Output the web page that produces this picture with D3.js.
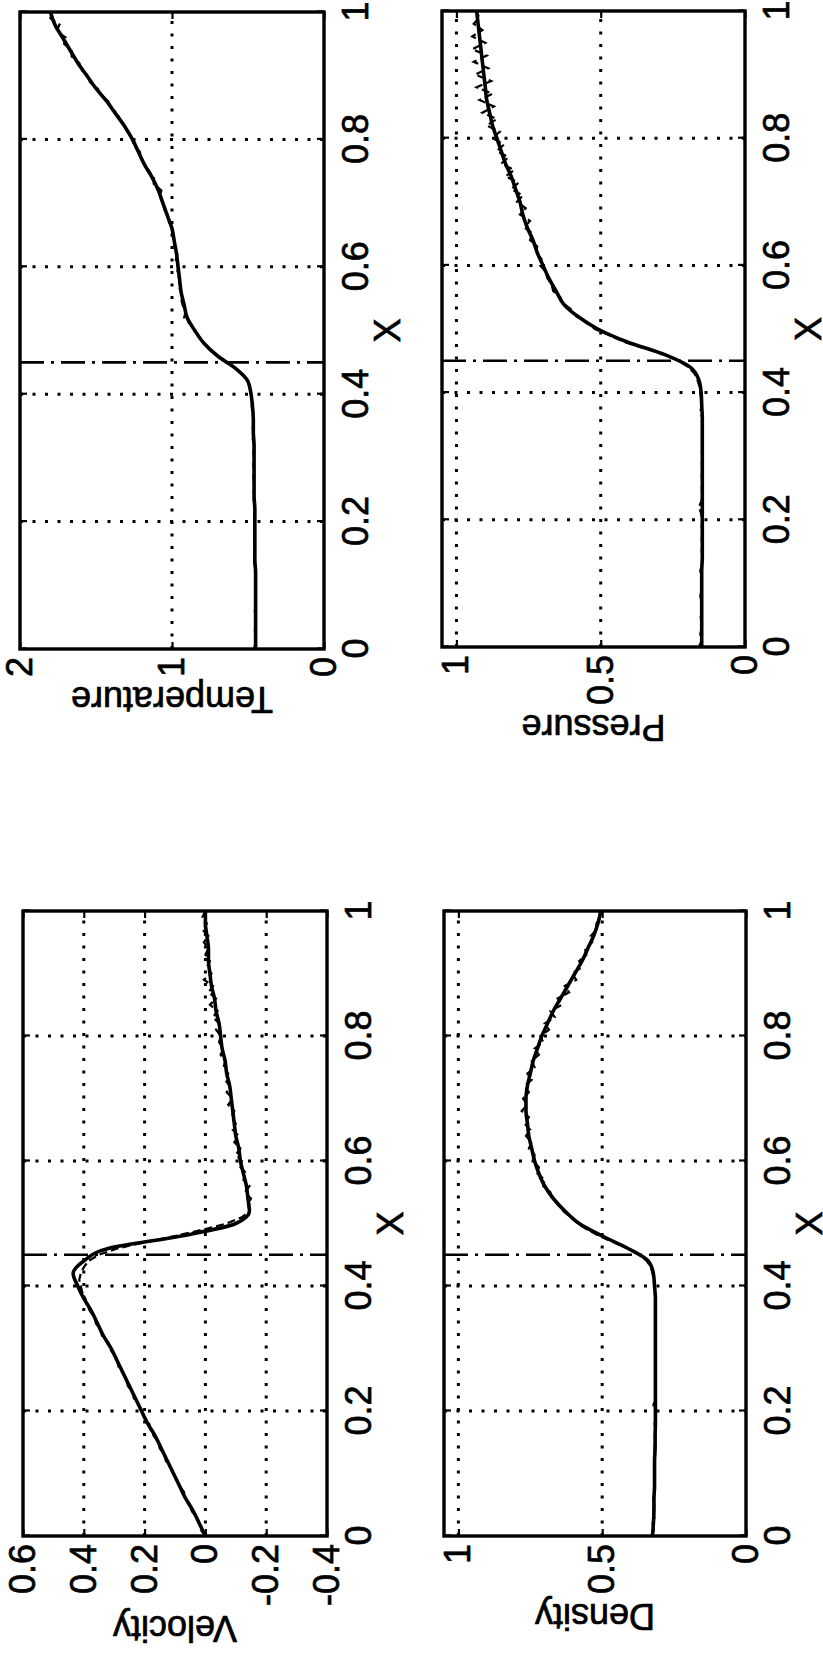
<!DOCTYPE html>
<html><head><meta charset="utf-8">
<script src="https://cdn.jsdelivr.net/npm/d3@7"></script>
<style>
body{margin:0;background:#fff}
svg{display:block;background:#fff}
text{font-family:"Liberation Sans",Arial,Helvetica,sans-serif;fill:#000;stroke:#000;stroke-width:0.7px}
</style>
</head><body>
<svg id="c" width="823" height="1655"></svg>
<script>
// ---------- DATA ----------
const xCoarse = [0,0.02,0.04,0.06,0.08,0.10,0.12,0.14,0.16,0.18,0.20,0.22,0.24,0.26,0.28,0.30,0.32,0.34,0.36,0.38,0.40,0.42,0.44,0.46,0.48,0.50,0.52,0.54,0.56,0.58,0.60,0.62,0.64,0.66,0.68,0.70,0.72,0.74,0.76,0.78,0.80,0.82,0.84,0.86,0.88,0.90,0.92,0.94,0.96,0.98,1.00];
const xFine = [0,0.01,0.02,0.03,0.04,0.05,0.06,0.07,0.08,0.09,0.10,0.11,0.12,0.13,0.14,0.15,0.16,0.17,0.18,0.19,0.20,0.21,0.22,0.23,0.24,0.25,0.26,0.27,0.28,0.29,0.30,0.31,0.32,0.33,0.34,0.35,0.36,0.37,0.38,0.39,0.40,0.41,0.42,0.43,0.44,0.45,0.46,0.47,0.48,0.49,0.50,0.51,0.52,0.53,0.54,0.55,0.56,0.57,0.58,0.59,0.60,0.61,0.62,0.63,0.64,0.65,0.66,0.67,0.68,0.69,0.70,0.71,0.72,0.73,0.74,0.75,0.76,0.77,0.78,0.79,0.80,0.81,0.82,0.83,0.84,0.85,0.86,0.87,0.88,0.89,0.90,0.91,0.92,0.93,0.94,0.95,0.96,0.97,0.98,0.99,1.00];

const velocitySolid = [0.00,0.02,0.04,0.065,0.085,0.105,0.125,0.145,0.165,0.19,0.21,0.23,0.25,0.27,0.29,0.31,0.335,0.355,0.375,0.40,0.42,0.435,0.40,0.32,0.08,-0.10,-0.145,-0.14,-0.135,-0.125,-0.115,-0.11,-0.10,-0.095,-0.09,-0.085,-0.08,-0.07,-0.065,-0.055,-0.05,-0.045,-0.035,-0.03,-0.02,-0.015,-0.01,-0.01,-0.005,0.0,0.0];
const velocityDashed = [0.00,0.015,0.02,0.03,0.045,0.05,0.065,0.07,0.085,0.095,0.105,0.115,0.13,0.135,0.15,0.155,0.17,0.18,0.185,0.20,0.21,0.22,0.235,0.24,0.255,0.26,0.27,0.285,0.29,0.30,0.315,0.32,0.34,0.345,0.36,0.365,0.38,0.39,0.395,0.405,0.41,0.415,0.41,0.40,0.385,0.35,0.29,0.20,0.10,0.01,-0.07,-0.12,-0.145,-0.14,-0.15,-0.13,-0.145,-0.125,-0.135,-0.115,-0.12,-0.10,-0.115,-0.095,-0.11,-0.09,-0.10,-0.085,-0.095,-0.075,-0.09,-0.07,-0.08,-0.065,-0.075,-0.06,-0.065,-0.05,-0.06,-0.045,-0.05,-0.035,-0.045,-0.025,-0.04,-0.015,-0.035,-0.01,-0.025,0.005,-0.02,-0.005,-0.015,0.0,-0.01,0.005,-0.01,0.01,-0.005,0.01,0.0];

const temperatureSolid = [0.45,0.45,0.45,0.45,0.45,0.45,0.45,0.455,0.455,0.455,0.455,0.455,0.46,0.46,0.46,0.46,0.46,0.465,0.465,0.47,0.48,0.50,0.58,0.70,0.79,0.85,0.90,0.92,0.94,0.95,0.96,0.97,0.985,1.00,1.03,1.06,1.09,1.13,1.18,1.22,1.26,1.31,1.37,1.43,1.50,1.56,1.62,1.67,1.72,1.77,1.80];
const temperatureDashed = [0.46,0.45,0.45,0.455,0.45,0.45,0.455,0.45,0.45,0.455,0.45,0.455,0.45,0.455,0.46,0.455,0.455,0.46,0.455,0.46,0.455,0.46,0.455,0.46,0.465,0.46,0.46,0.465,0.46,0.465,0.46,0.465,0.46,0.47,0.465,0.47,0.465,0.47,0.475,0.475,0.48,0.49,0.50,0.53,0.58,0.64,0.70,0.75,0.79,0.82,0.85,0.88,0.92,0.91,0.93,0.94,0.94,0.955,0.95,0.965,0.96,0.975,0.965,0.985,0.98,1.00,0.995,1.02,1.025,1.05,1.06,1.08,1.07,1.12,1.12,1.15,1.18,1.20,1.21,1.25,1.26,1.29,1.31,1.34,1.36,1.40,1.42,1.47,1.49,1.54,1.55,1.60,1.61,1.66,1.66,1.71,1.70,1.76,1.74,1.80,1.79];

const densitySolid = [0.325,0.322,0.32,0.32,0.318,0.318,0.318,0.316,0.316,0.315,0.315,0.315,0.315,0.315,0.315,0.315,0.315,0.315,0.315,0.315,0.318,0.322,0.34,0.41,0.50,0.58,0.63,0.67,0.70,0.72,0.735,0.745,0.755,0.76,0.765,0.765,0.76,0.75,0.74,0.725,0.71,0.69,0.67,0.645,0.62,0.595,0.57,0.55,0.53,0.515,0.505];
const densityDashed = [0.33,0.32,0.325,0.318,0.322,0.318,0.322,0.318,0.32,0.316,0.32,0.316,0.318,0.316,0.318,0.315,0.317,0.314,0.318,0.314,0.316,0.322,0.312,0.316,0.314,0.316,0.314,0.316,0.314,0.316,0.314,0.316,0.314,0.316,0.314,0.316,0.315,0.316,0.315,0.317,0.318,0.32,0.325,0.33,0.345,0.37,0.41,0.46,0.51,0.55,0.585,0.61,0.635,0.65,0.675,0.68,0.705,0.70,0.725,0.72,0.74,0.735,0.755,0.745,0.765,0.75,0.77,0.755,0.78,0.76,0.775,0.755,0.77,0.745,0.76,0.735,0.745,0.72,0.735,0.705,0.715,0.685,0.70,0.665,0.68,0.64,0.655,0.615,0.63,0.59,0.605,0.57,0.58,0.555,0.56,0.535,0.54,0.52,0.52,0.505,0.51];

const pressureSolid = [0.15,0.15,0.15,0.15,0.15,0.15,0.15,0.148,0.148,0.148,0.148,0.148,0.148,0.148,0.148,0.148,0.148,0.148,0.148,0.15,0.152,0.16,0.19,0.28,0.41,0.51,0.58,0.63,0.655,0.68,0.70,0.72,0.735,0.755,0.77,0.78,0.795,0.81,0.83,0.845,0.86,0.875,0.885,0.895,0.90,0.905,0.91,0.915,0.92,0.925,0.93];
const pressureDashed = [0.16,0.15,0.155,0.15,0.15,0.155,0.15,0.15,0.155,0.15,0.15,0.15,0.155,0.15,0.148,0.15,0.148,0.15,0.148,0.15,0.148,0.152,0.16,0.15,0.148,0.15,0.148,0.15,0.148,0.15,0.148,0.15,0.148,0.15,0.148,0.15,0.148,0.155,0.15,0.152,0.155,0.158,0.165,0.175,0.195,0.23,0.28,0.35,0.42,0.47,0.52,0.545,0.585,0.60,0.63,0.64,0.665,0.67,0.685,0.69,0.71,0.705,0.725,0.72,0.745,0.735,0.765,0.745,0.78,0.76,0.79,0.77,0.81,0.785,0.83,0.80,0.845,0.82,0.86,0.835,0.875,0.85,0.895,0.86,0.91,0.87,0.92,0.875,0.93,0.88,0.935,0.89,0.94,0.895,0.945,0.90,0.945,0.91,0.94,0.92,0.935];

const xTicks = [0,0.2,0.4,0.6,0.8,1];
const velocityTicks = [-0.4,-0.2,0,0.2,0.4,0.6];
const temperatureTicks = [0,1,2];
const densityTicks = [0,0.5,1];
const pressureTicks = [0,0.5,1];
const velocityDomain = [-0.4,0.6];
const temperatureDomain = [0,2];
const densityDomain = [0,1.05];
const pressureDomain = [0,1.05];
const shockX = 0.45;
const xLabel = "X";

// ---------- DRAWING ----------
const W = 823, H = 1655, FS = 36;
const svg = d3.select('#c');
svg.append('rect').attr('width',W).attr('height',H).attr('fill','#fff');
// page drawn in landscape (u right, v down), rotated 90deg CCW onto portrait page
const page = svg.append('g').attr('transform',`translate(0,${H}) rotate(-90)`);

const panels = [
  {label:'Velocity', solid:velocitySolid, dashed:velocityDashed, dom:velocityDomain, ticks:velocityTicks, u0:119, u1:744, v0:23, v1:327},
  {label:'Density', solid:densitySolid, dashed:densityDashed, dom:densityDomain, ticks:densityTicks, u0:119, u1:744, v0:444, v1:746},
  {label:'Temperature', solid:temperatureSolid, dashed:temperatureDashed, dom:temperatureDomain, ticks:temperatureTicks, u0:1006, u1:1643, v0:20, v1:324},
  {label:'Pressure', solid:pressureSolid, dashed:pressureDashed, dom:pressureDomain, ticks:pressureTicks, u0:1008, u1:1644, v0:442, v1:745}
];

panels.forEach(p => {
  const x = d3.scaleLinear().domain([0,1]).range([p.u0,p.u1]);
  const y = d3.scaleLinear().domain(p.dom).range([p.v1,p.v0]);
  const g = page.append('g');
  const clipId = 'clip' + p.label;
  g.append('clipPath').attr('id',clipId).append('rect')
    .attr('x',p.u0).attr('y',p.v0).attr('width',p.u1-p.u0).attr('height',p.v1-p.v0);

  // grid (dotted)
  const eps = 1e-9;
  g.selectAll('.gx').data(xTicks.filter(t => t>eps && t<1-eps)).join('line')
    .attr('x1',d=>x(d)).attr('x2',d=>x(d)).attr('y1',p.v0).attr('y2',p.v1)
    .attr('stroke','#000').attr('stroke-width',3).attr('stroke-dasharray','3,9.5');
  g.selectAll('.gy').data(p.ticks.filter(t => t>p.dom[0]+eps && t<p.dom[1]-eps)).join('line')
    .attr('x1',p.u0).attr('x2',p.u1).attr('y1',d=>y(d)).attr('y2',d=>y(d))
    .attr('stroke','#000').attr('stroke-width',3).attr('stroke-dasharray','3,9.5');

  // shock position (dash-dot)
  g.append('line').attr('x1',x(shockX)).attr('x2',x(shockX)).attr('y1',p.v0).attr('y2',p.v1)
    .attr('stroke','#000').attr('stroke-width',2.6).attr('stroke-dasharray','24,7,3,7');

  // data lines
  const line = d3.line().x(d=>x(d[0])).y(d=>y(d[1]));
  g.append('path').datum(xFine.map((xv,i)=>[xv,p.dashed[i]]))
    .attr('d',line).attr('fill','none').attr('stroke','#000').attr('stroke-width',2.2)
    .attr('stroke-dasharray','8,4').attr('clip-path',`url(#${clipId})`);
  g.append('path').datum(xCoarse.map((xv,i)=>[xv,p.solid[i]]))
    .attr('d',d3.line().curve(d3.curveMonotoneX).x(d=>x(d[0])).y(d=>y(d[1])))
    .attr('fill','none').attr('stroke','#000').attr('stroke-width',3.6)
    .attr('stroke-linejoin','round').attr('clip-path',`url(#${clipId})`);

  // axes with inward ticks
  const fmt = d => String(d);
  const axB = g.append('g').attr('transform',`translate(0,${p.v1})`)
    .call(d3.axisBottom(x).tickValues(xTicks).tickFormat(fmt).tickSizeInner(-7).tickSizeOuter(0).tickPadding(18));
  const axT = g.append('g').attr('transform',`translate(0,${p.v0})`)
    .call(d3.axisTop(x).tickValues(xTicks).tickFormat('').tickSizeInner(-7).tickSizeOuter(0));
  const axL = g.append('g').attr('transform',`translate(${p.u0},0)`)
    .call(d3.axisLeft(y).tickValues(p.ticks).tickFormat(fmt).tickSizeInner(-7).tickSizeOuter(0).tickPadding(8));
  const axR = g.append('g').attr('transform',`translate(${p.u1},0)`)
    .call(d3.axisRight(y).tickValues(p.ticks).tickFormat('').tickSizeInner(-7).tickSizeOuter(0));
  [axB,axT,axL,axR].forEach(a => {
    a.select('.domain').remove();
    a.selectAll('.tick line').attr('stroke','#000').attr('stroke-width',2.2);
    a.selectAll('text').attr('font-size',FS).attr('font-family','"Liberation Sans",Arial,sans-serif').attr('fill','#000');
  });
  axB.selectAll('text').attr('dy','0.72em');

  // frame
  g.append('rect').attr('x',p.u0).attr('y',p.v0).attr('width',p.u1-p.u0).attr('height',p.v1-p.v0)
    .attr('fill','none').attr('stroke','#000').attr('stroke-width',3.4);

  // labels
  let maxW = 0;
  axL.selectAll('text').each(function(){ maxW = Math.max(maxW, this.getComputedTextLength()); });
  g.append('text').attr('transform',`translate(${p.u0-8-maxW-10},${(p.v0+p.v1)/2}) rotate(-90)`)
    .attr('text-anchor','middle').attr('font-size',FS).text(p.label);
  g.append('text').attr('x',(p.u0+p.u1)/2).attr('y',p.v1+76)
    .attr('text-anchor','middle').attr('font-size',FS).text(xLabel);
});
</script>
</body></html>
